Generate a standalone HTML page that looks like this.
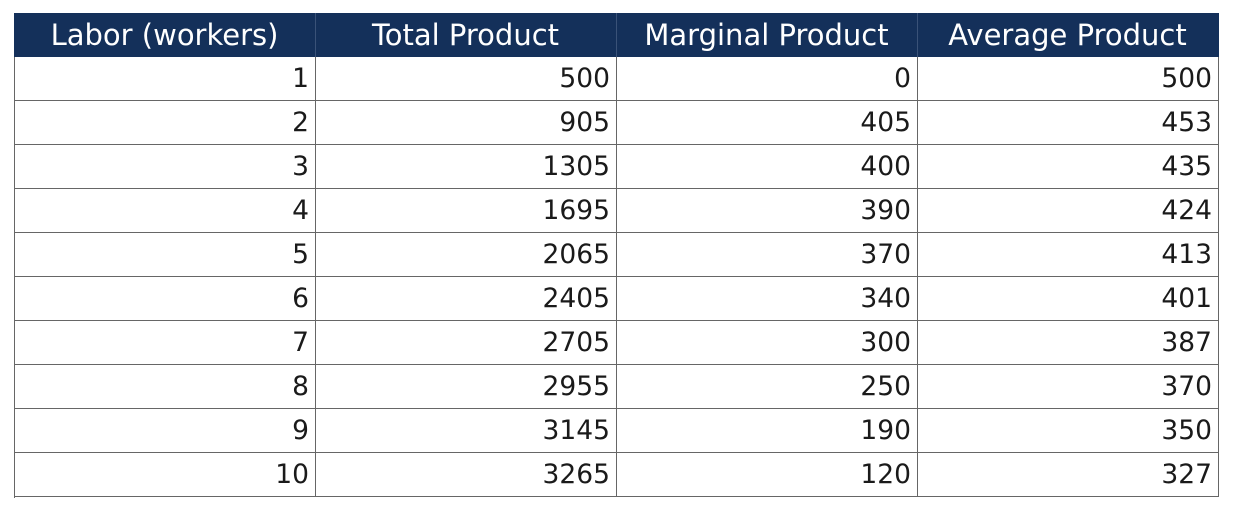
<!DOCTYPE html>
<html><head><style>
body{margin:0;width:1235px;height:512px;background:#fff;position:relative;overflow:hidden;font-family:"DejaVu Sans",sans-serif}
.h{position:absolute;top:13px;height:44px;background:#14305a;color:#fff;font-size:29px;line-height:44px;text-align:center}
.c{position:absolute;height:44px;box-sizing:border-box;border-right:1px solid #666;border-bottom:1px solid #666;font-size:26.5px;line-height:44px;text-align:right;padding-right:6px;color:#1a1a1a}
.v{position:absolute;top:13px;width:1px;height:44px;background:#3a5278}
</style></head><body>
<div class="h" style="left:14px;width:1205px"></div>
<div class="h" style="left:14px;width:301px;background:none">Labor (workers)</div>
<div class="h" style="left:315px;width:301px;background:none">Total Product</div>
<div class="h" style="left:616px;width:301px;background:none">Marginal Product</div>
<div class="h" style="left:917px;width:301px;background:none">Average Product</div>
<div class="v" style="left:315px"></div><div class="v" style="left:616px"></div><div class="v" style="left:917px"></div>
<div style="position:absolute;left:14px;top:57px;width:1px;height:441px;background:#666"></div>
<div id="t"></div>
<script>
var d=[[1,500,0,500],[2,905,405,453],[3,1305,400,435],[4,1695,390,424],[5,2065,370,413],[6,2405,340,401],[7,2705,300,387],[8,2955,250,370],[9,3145,190,350],[10,3265,120,327]];
var h='';var xs=[15,316,617,918];var ws=[301,301,301,301];
d.forEach(function(r,i){r.forEach(function(v,j){h+='<div class="c" style="left:'+xs[j]+'px;top:'+(57+i*44)+'px;width:'+ws[j]+'px">'+v+'</div>';});});
document.getElementById('t').innerHTML=h;
</script>
</body></html>
